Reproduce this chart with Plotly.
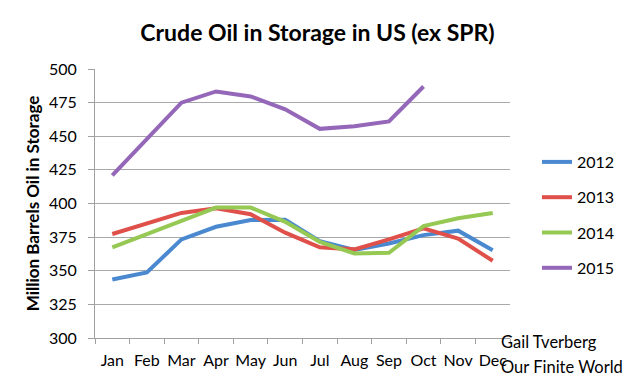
import plotly.graph_objects as go

months = ["Jan", "Feb", "Mar", "Apr", "May", "Jun", "Jul", "Aug", "Sep", "Oct", "Nov", "Dec"]
y2012 = [343.5, 348.7, 373.3, 382.7, 387.7, 388.0, 372.0, 365.5, 370.3, 376.5, 379.8, 365.3]
y2013 = [377.3, 385.0, 393.0, 396.4, 392.0, 378.3, 367.4, 365.9, 373.3, 381.5, 374.0, 357.4]
y2014 = [367.4, 377.0, 387.0, 397.0, 397.0, 386.4, 371.5, 362.9, 363.3, 383.2, 389.0, 393.0]
y2015 = [421.0, 448.0, 475.0, 483.3, 479.6, 470.0, 455.5, 457.5, 461.0, 487.0]
series = [("2012", y2012, "#4A89D0"), ("2013", y2013, "#E0504A"),
          ("2014", y2014, "#96C854"), ("2015", y2015, "#9467B8")]
yticks = [300, 325, 350, 375, 400, 425, 450, 475, 500]

FONT = "Lato"
OFF = 8  # default page body margin
fig = go.Figure()
for name, vals, col in series:
    fig.add_trace(go.Scatter(x=months[:len(vals)], y=vals, name=name, mode="lines",
                             legendgroup=name,
                             line=dict(color=col, width=4)))

W, H = 640 - OFF, 382 - OFF
l, t = 95 - OFF, 69 - OFF
pw, ph = 415, 269
r, b = W - l - pw, H - t - ph

def px_x(x):
    return (x - OFF - l) / pw

def px_y(y):
    return 1 - (y - OFF - t) / ph

fig.update_layout(
    width=W, height=H,
    margin=dict(l=l, r=r, t=t, b=b),
    paper_bgcolor="white", plot_bgcolor="white",
    font=dict(family=FONT, size=16, color="black"),
    title=dict(text="<b>Crude Oil in Storage in US (ex SPR)</b>", x=(317.5 - OFF) / W,
               xanchor="center", y=1 - (33 - OFF) / H, yanchor="middle",
               font=dict(family=FONT, size=23, color="black", weight="bold")),
    showlegend=True,
    legend=dict(x=1.065, xref="paper", y=px_y(215), yanchor="middle", xanchor="left",
                font=dict(family=FONT, size=16), tracegroupgap=11.5,
                bgcolor="rgba(0,0,0,0)"),
    xaxis=dict(type="category", categoryorder="array", categoryarray=months,
               tickson="boundaries", ticks="outside", ticklen=5, tickcolor="#A0A0A0",
               showline=True, linecolor="#A0A0A0", linewidth=1, showgrid=False,
               range=[-0.5, 11.5], tickangle=0, tickfont=dict(size=16),
               ticklabelstandoff=8),
    yaxis=dict(range=[300, 500], tickvals=yticks, ticks="outside", ticklen=6,
               tickcolor="#A0A0A0", showline=True, linecolor="#A0A0A0",
               showgrid=True, gridcolor="#A8A8A8", gridwidth=1,
               ticklabelstandoff=8,
               title=dict(text="<b>Million Barrels Oil in Storage</b>", standoff=5,
                          font=dict(size=17, weight="bold")),
               tickfont=dict(size=16), zeroline=False),
)
for txt, px, py in [("Gail Tverberg", 499, 342), ("Our Finite World", 499, 367)]:
    fig.add_annotation(text=txt, x=px_x(px), y=px_y(py), xref="paper", yref="paper",
                       xanchor="left", yanchor="middle", showarrow=False,
                       font=dict(family=FONT, size=16.5, color="black"))

fig.write_html("out.html")
